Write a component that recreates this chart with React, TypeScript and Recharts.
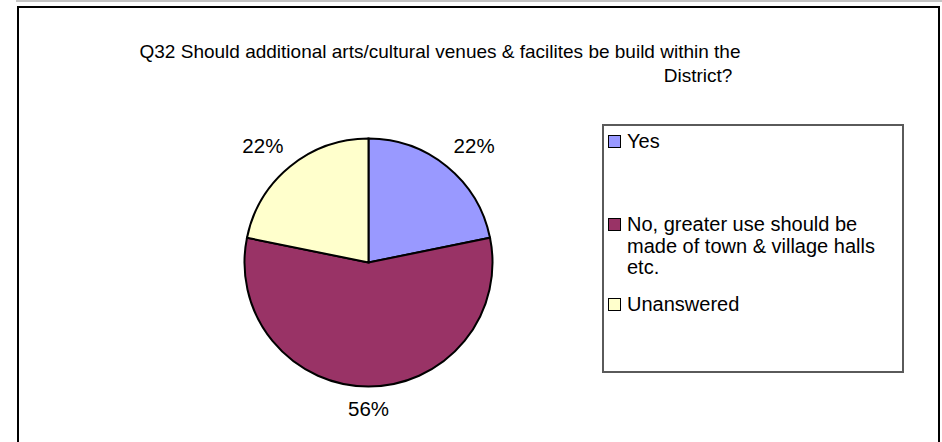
import { PieChart, Pie, Cell } from 'recharts';

const categories = ['Yes', 'No, greater use should be made of town & village halls etc.', 'Unanswered'];
const shares = [21.8, 56.4, 21.8];
const colors = ['#9999ff', '#993366', '#ffffcc'];

const titleLines = ['Q32 Should additional arts/cultural venues & facilites be build within the', 'District?'];
const legendLines = [['Yes'], ['No, greater use should be', 'made of town & village halls', 'etc.'], ['Unanswered']];

const data = categories.map((name, i) => ({ name, value: shares[i] }));
const FONT = '"Liberation Sans", Arial, sans-serif';
const RAD = Math.PI / 180;

function renderLabel(props: any) {
    const { cx, cy, midAngle, outerRadius, percent } = props;
    const cos = Math.cos(-midAngle * RAD);
    const sin = Math.sin(-midAngle * RAD);
    const x = cx + cos * (outerRadius + 43);
    const y = cy + sin * (outerRadius + 22) - Math.abs(cos) * 6;
    return (
        <text x={x} y={y} textAnchor="middle" dominantBaseline="central" fill="#000" fontSize={20.5} fontFamily={FONT}>
            {`${Math.round(percent * 100)}%`}
        </text>
    );
}

const legendRows = [142, 225, 305];

export default function App() {
    return (
        <div style={{ position: 'fixed', left: 0, top: 0, width: 942, height: 442, background: '#fff', overflow: 'hidden', fontFamily: FONT }}>
            <div style={{ position: 'absolute', left: 16, top: 0, width: 926, height: 2, background: '#c4c4c4' }} />
            <div style={{ position: 'absolute', left: 17, top: 6, width: 919, height: 480, border: '2px solid #000', borderBottom: 'none' }} />

            <div style={{ position: 'absolute', left: 440, top: 40, transform: 'translateX(-50%)', whiteSpace: 'nowrap', fontSize: 19, lineHeight: '23px', color: '#000' }}>
                {titleLines[0]}
            </div>
            <div style={{ position: 'absolute', left: 698, top: 64, transform: 'translateX(-50%)', whiteSpace: 'nowrap', fontSize: 19, lineHeight: '23px', color: '#000' }}>
                {titleLines[1]}
            </div>

            <div style={{ position: 'absolute', left: 0, top: 0 }}>
                <PieChart width={942} height={442} margin={{ top: 0, right: 0, bottom: 0, left: 0 }}>
                    <Pie
                        data={data}
                        dataKey="value"
                        nameKey="name"
                        cx={368.5}
                        cy={262.5}
                        outerRadius={124}
                        startAngle={90}
                        endAngle={-270}
                        stroke="#000"
                        strokeWidth={2}
                        label={renderLabel}
                        labelLine={false}
                        isAnimationActive={false}
                    >
                        {data.map((entry, index) => (
                            <Cell key={`cell-${index}`} fill={colors[index]} />
                        ))}
                    </Pie>
                </PieChart>
            </div>

            <div style={{ position: 'absolute', left: 602, top: 124, width: 298, height: 245, border: '2px solid #5a5a5a' }} />
            {legendLines.map((lines, i) => (
                <div key={i} style={{ position: 'absolute', left: 608, top: legendRows[i] - 11 }}>
                    <div style={{ position: 'absolute', left: 0, top: 4, width: 11, height: 11, background: colors[i], border: '1.5px solid #000' }} />
                    <div style={{ position: 'absolute', left: 19, top: 0, whiteSpace: 'nowrap', fontSize: 20, lineHeight: '21.5px', color: '#000' }}>
                        {lines.map((l, j) => (
                            <div key={j}>{l}</div>
                        ))}
                    </div>
                </div>
            ))}
        </div>
    );
}
